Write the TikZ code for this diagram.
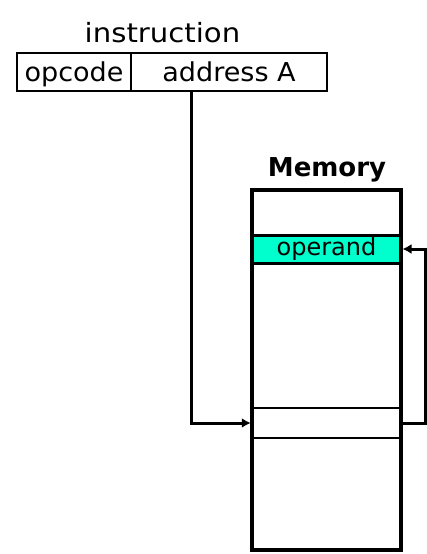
\documentclass[tikz,border=0pt]{standalone}
\usepackage{fontspec}
\setmainfont{DejaVu Sans}
\newfontfamily\fieldfont[FakeStretch=1.04]{DejaVu Sans}
\newfontfamily\titlefont[FakeStretch=1.1]{DejaVu Sans}
\usetikzlibrary{arrows.meta,positioning,calc}
\definecolor{operandcyan}{RGB}{0,255,204}

\begin{document}
\begin{tikzpicture}[x=1pt, y=-1pt,
    field/.style={draw, line width=2.5pt, minimum height=38pt, inner sep=0pt,
        text height=20pt, text depth=2pt, font=\fieldfont\fontsize{26}{30}\selectfont},
    cell/.style={draw, line width=3pt, minimum width=149pt, inner sep=0pt},
    link/.style={line width=3pt, -{Latex[length=9pt,width=10pt]}}]
    \useasboundingbox (0,0) rectangle (427,554);
    % Instruction word.
    \node[anchor=base, font=\titlefont\fontsize{26.5}{30}\selectfont] (title) at (162.5,42) {instruction};
    \node[field, minimum width=114pt] (opcode) at (74,72) {opcode};
    \node[field, minimum width=196pt] (addr) at (229,72) {address A};
    \coordinate (tap) at (191,91);
    % Memory with its cells.
    \node[anchor=base, font=\bfseries\fontsize{26}{30}\selectfont] (memlabel) at (327,176) {Memory};
    \node[cell, fill=operandcyan, minimum height=28pt,
        font=\fontsize{24}{28}\selectfont, text height=17pt, text depth=5pt] (operand) at (326.5,249) {operand};
    \node[cell, line width=2.5pt, minimum height=30pt] (target) at (326.5,423) {};
    \node[draw, line width=4.5pt, minimum width=149pt, minimum height=360pt, inner sep=0pt] (memory) at (326.5,370) {};
    % Connectors.
    \draw[link] (tap) |- (target.west);
    \draw[link] (target.east) -- ++(23,0) |- (operand.east);
\end{tikzpicture}
\end{document}
